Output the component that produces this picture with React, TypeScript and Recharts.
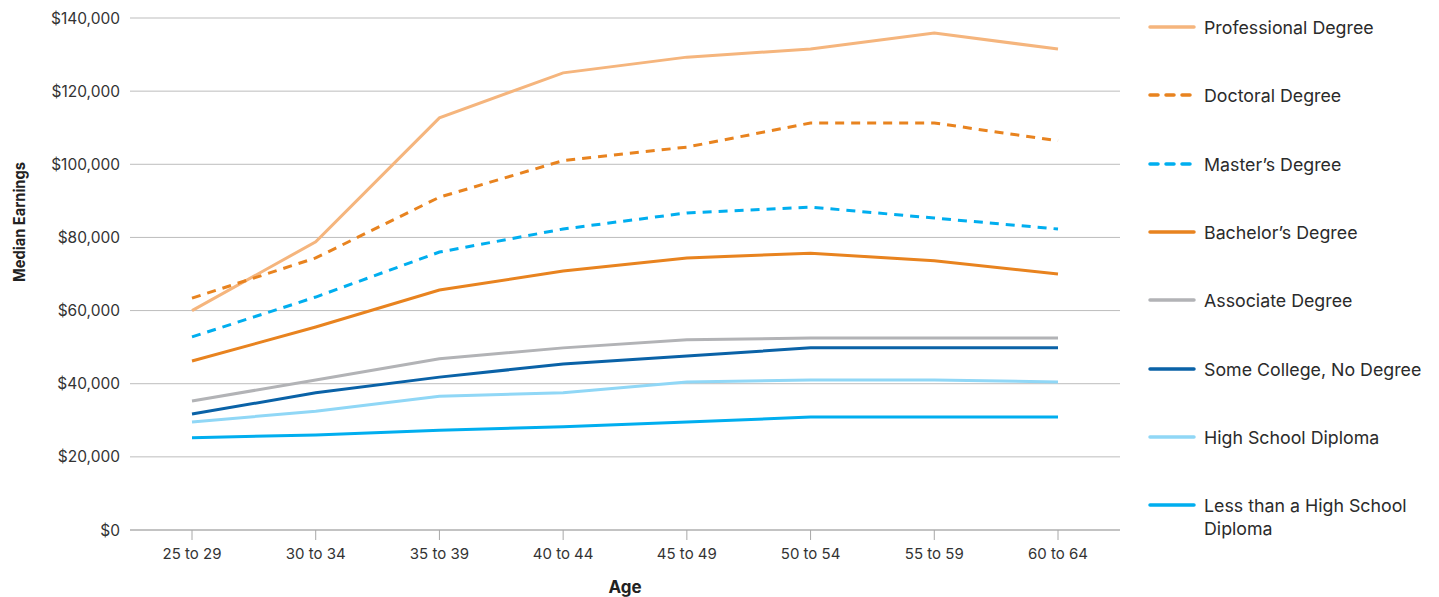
import React from "react";
import { LineChart, Line, XAxis, YAxis, CartesianGrid, Label } from "recharts";

const ageGroups = ["25 to 29", "30 to 34", "35 to 39", "40 to 44", "45 to 49", "50 to 54", "55 to 59", "60 to 64"];

const professional = [60000, 78800, 112700, 125000, 129300, 131500, 135900, 131500];
const doctoral = [63400, 74400, 91000, 101000, 104700, 111300, 111300, 106400];
const masters = [52800, 63700, 76000, 82300, 86700, 88300, 85300, 82300];
const bachelors = [46200, 55500, 65600, 70800, 74400, 75700, 73600, 70000];
const associate = [35300, 41000, 46800, 49800, 52000, 52500, 52500, 52500];
const someCollege = [31700, 37500, 41800, 45400, 47600, 49800, 49800, 49800];
const highSchool = [29500, 32500, 36600, 37500, 40500, 41000, 41000, 40500];
const lessThanHS = [25200, 26000, 27300, 28200, 29500, 30900, 30900, 30900];

const yTicks = [0, 20000, 40000, 60000, 80000, 100000, 120000, 140000];

const series = [
  { key: "professional", name: "Professional Degree", values: professional, color: "#F5B57D", dashed: false },
  { key: "doctoral", name: "Doctoral Degree", values: doctoral, color: "#E8831F", dashed: true },
  { key: "masters", name: "Master\u2019s Degree", values: masters, color: "#00AEEF", dashed: true },
  { key: "bachelors", name: "Bachelor\u2019s Degree", values: bachelors, color: "#E8831F", dashed: false },
  { key: "associate", name: "Associate Degree", values: associate, color: "#B2B3B6", dashed: false },
  { key: "someCollege", name: "Some College, No Degree", values: someCollege, color: "#0A62A7", dashed: false },
  { key: "highSchool", name: "High School Diploma", values: highSchool, color: "#90D7F6", dashed: false },
  { key: "lessThanHS", name: "Less than a High School Diploma", values: lessThanHS, color: "#00AEEF", dashed: false },
];

const data = ageGroups.map((age, i) => {
  const row: { [k: string]: string | number } = { age };
  series.forEach((s) => {
    row[s.key] = s.values[i];
  });
  return row;
});

const FONT = "Inter, 'Noto Sans', sans-serif";
const fmtMoney = (v: number) => "$" + v.toLocaleString("en-US");

// y-axis title, placed a bit above the plot's vertical centre like the original
const YTitle = () => (
  <text
    x={25}
    y={222}
    transform="rotate(-90 25 222)"
    textAnchor="middle"
    fill="#222"
    fontSize={16}
    fontWeight={700}
    fontFamily={FONT}
    textLength={120}
    lengthAdjust="spacingAndGlyphs"
  >
    Median Earnings
  </text>
);

export default function App() {
  return (
    <div style={{ position: "absolute", left: 0, top: 0, width: 1439, height: 597, background: "#fff", fontFamily: FONT }}>
      <LineChart
        width={1130}
        height={597}
        data={data}
        margin={{ top: 18, right: 10, bottom: 0, left: 10 }}
      >
        <CartesianGrid vertical={false} stroke="#BDBDBD" strokeWidth={1} />
        <XAxis
          dataKey="age"
          padding={{ left: 62, right: 62 }}
          height={67}
          stroke="#A8A8A8"
          tickSize={10}
          tickMargin={8}
          tick={{ fill: "#333", fontSize: 15, fontFamily: FONT }}
        >
          <Label value="Age" position="insideBottom" offset={4} style={{ fill: "#222", fontSize: 17, fontWeight: 700, fontFamily: FONT }} />
        </XAxis>
        <YAxis
          width={120}
          domain={[0, 140000]}
          ticks={yTicks}
          tickFormatter={fmtMoney}
          axisLine={false}
          tickLine={false}
          tickSize={0}
          tickMargin={10}
          tick={{ fill: "#333", fontSize: 15.5, fontFamily: FONT }}
        >
          <Label content={YTitle} />
        </YAxis>
        {series.map((s) => (
          <Line
            key={s.key}
            type="linear"
            dataKey={s.key}
            name={s.name}
            stroke={s.color}
            strokeWidth={3}
            strokeDasharray={s.dashed ? "9 7" : undefined}
            dot={false}
            activeDot={false}
            isAnimationActive={false}
          />
        ))}
      </LineChart>
      <div style={{ position: "absolute", left: 1148, top: 0, width: 290 }}>
        {series.map((s, i) => (
          <div
            key={s.key}
            style={{ position: "absolute", top: 16 + i * 68.3, left: 0, display: "flex", alignItems: "flex-start" }}
          >
            <svg width={48} height={22} style={{ flex: "none", marginRight: 8 }}>
              <line
                x1={2}
                y1={11}
                x2={46}
                y2={11}
                stroke={s.color}
                strokeWidth={3.5}
                strokeLinecap="round"
                strokeDasharray={s.dashed ? "8 8" : undefined}
              />
            </svg>
            <span style={{ fontSize: 17.8, lineHeight: "23px", color: "#2b2b2b", width: 222 }}>{s.name}</span>
          </div>
        ))}
      </div>
    </div>
  );
}
